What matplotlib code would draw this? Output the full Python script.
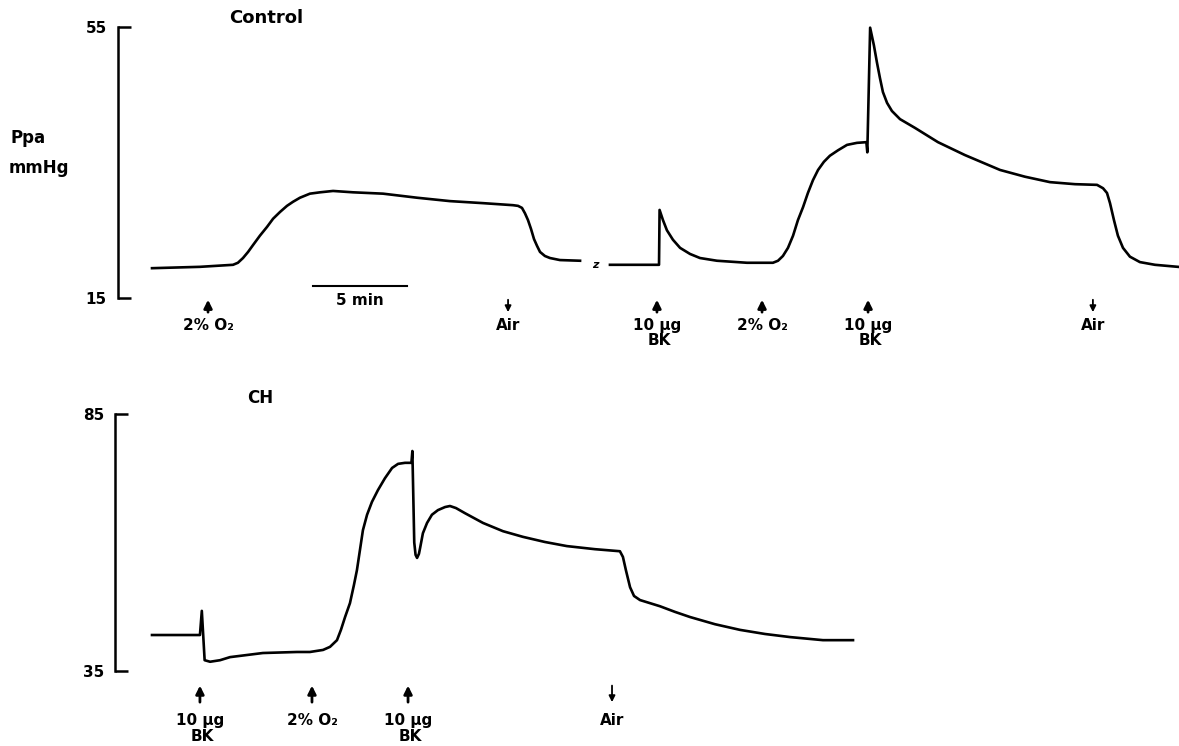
import numpy as np
import matplotlib
matplotlib.use('Agg')
import matplotlib.pyplot as plt

plt.rcParams['font.family'] = ['DejaVu Sans']
plt.rcParams['font.weight'] = 'bold'

# Control trace (min, mmHg), before and after the chart break
ctrl_t_a = [0.0, 2.55, 4.31, 4.57, 4.84, 5.11, 5.37, 5.74, 6.12, 6.44, 6.81, 7.18,
            7.50, 7.87, 8.40, 8.94, 9.63, 10.69, 12.29, 14.10, 15.85, 17.61,
            19.20, 19.47, 19.68, 19.84, 20.00, 20.16, 20.32, 20.48, 20.64, 20.90,
            21.17, 21.70, 22.77]
ctrl_p_a = [19.4, 19.6, 19.9, 20.2, 20.9, 21.8, 22.8, 24.2, 25.5, 26.7, 27.7, 28.6,
            29.2, 29.8, 30.4, 30.6, 30.8, 30.6, 30.4, 29.8, 29.3, 29.0,
            28.7, 28.6, 28.3, 27.5, 26.5, 25.2, 23.7, 22.7, 21.8, 21.2,
            20.9, 20.6, 20.5]

ctrl_t_b = [24.36, 26.97, 27.00, 27.18, 27.39, 27.71, 28.09, 28.62, 29.15, 30.05,
            31.65, 33.03, 33.30, 33.56, 33.83, 34.10, 34.36, 34.63, 34.89, 35.16,
            35.43, 35.74, 36.06, 36.49, 36.97, 37.50, 38.00, 38.05, 38.20, 38.40,
            38.56, 38.72, 38.88, 39.10, 39.36, 39.79, 40.59, 41.81, 43.24, 45.11,
            46.44, 47.77, 49.10, 50.27, 50.59, 50.80, 50.96, 51.17, 51.38, 51.65,
            52.02, 52.55, 53.35, 54.57]
ctrl_p_b = [19.9, 19.9, 28.0, 26.5, 25.0, 23.6, 22.4, 21.5, 20.9, 20.5,
            20.2, 20.2, 20.5, 21.2, 22.4, 24.2, 26.5, 28.4, 30.5, 32.4,
            33.9, 35.1, 36.0, 36.8, 37.6, 37.9, 38.0, 36.5, 54.9, 52.3,
            49.8, 47.5, 45.4, 43.8, 42.6, 41.4, 40.1, 38.0, 36.1, 33.9,
            32.9, 32.1, 31.8, 31.7, 31.2, 30.5, 29.0, 26.5, 24.2, 22.4,
            21.1, 20.3, 19.9, 19.6]
ctrl_break_t = 23.56

# CH trace (min, mmHg)
ch_t = [0.0, 2.55, 2.65, 2.80, 3.09, 3.62, 4.15, 5.90, 7.71, 8.40, 9.10, 9.47,
        9.84, 10.05, 10.27, 10.53, 10.74, 10.90, 11.06, 11.22, 11.44, 11.70,
        12.02, 12.39, 12.77, 13.09, 13.46, 13.80, 13.85, 13.95, 14.02, 14.10,
        14.20, 14.26, 14.41, 14.63, 14.89, 15.21, 15.59, 15.85, 16.17, 16.65,
        17.61, 18.67, 19.73, 20.90, 22.07, 23.56, 24.89, 25.05, 25.21, 25.43,
        25.64, 25.96, 26.49, 27.02, 27.82, 28.62, 29.95, 31.28, 32.61, 33.94,
        35.69, 37.29]
ch_p = [42.0, 42.0, 46.7, 37.1, 36.8, 37.1, 37.7, 38.5, 38.7, 38.7, 39.1, 39.7,
        41.0, 43.0, 45.5, 48.2, 51.7, 54.6, 58.5, 62.4, 65.4, 67.9,
        70.2, 72.5, 74.5, 75.3, 75.5, 75.5, 77.8, 60.0, 57.6, 57.0,
        57.8, 58.9, 61.8, 63.8, 65.4, 66.3, 66.9, 67.1, 66.7, 65.7,
        63.8, 62.2, 61.1, 60.1, 59.3, 58.7, 58.3, 57.2, 54.6, 51.3,
        49.6, 48.8, 48.2, 47.6, 46.5, 45.5, 44.1, 43.0, 42.2, 41.6,
        41.0, 41.0]

# events: time (min), label (BK on a second line after '|')
ctrl_events_t = [2.98, 18.94, 26.86, 32.45, 38.09, 50.05]
ctrl_events_lbl = ['2% O₂', 'Air', '10 µg|BK', '2% O₂', '10 µg|BK', 'Air']
ch_events_t = [2.55, 8.51, 13.62, 24.47]
ch_events_lbl = ['10 µg|BK', '2% O₂', '10 µg|BK', 'Air']

fig = plt.figure(figsize=(11.79, 7.46), dpi=100)
ax1 = fig.add_axes([118 / 1179, 1 - 298 / 746, 1061 / 1179, 271 / 746])
ax2 = fig.add_axes([115 / 1179, 1 - 671 / 746, 1064 / 1179, 257 / 746])


def style(ax, lo, hi, x0):
    ax.set_xlim(x0, 54.63)
    ax.set_ylim(lo, hi)
    for s in ['top', 'right', 'bottom']:
        ax.spines[s].set_visible(False)
    ax.spines['left'].set_linewidth(1.8)
    ax.set_xticks([])
    ax.set_yticks([lo, hi])
    ax.tick_params(axis='y', direction='in', length=9, width=1.8, pad=8, labelsize=11)
    for lab in ax.get_yticklabels():
        lab.set_fontweight('bold')


def events(ax, ts, labels, up_y, lbl_y, bk_y):
    for t, lbl in zip(ts, labels):
        down = lbl == 'Air'
        tip, tail = (up_y[1], up_y[0]) if down else (up_y[0], up_y[1])
        ax.annotate('', xy=(t, tip), xytext=(t, tail), annotation_clip=False,
                    arrowprops=dict(arrowstyle='-|>', color='k',
                                    lw=1.3 if down else 2.0,
                                    mutation_scale=9 if down else 12))
        parts = lbl.split('|')
        ax.text(t, lbl_y, parts[0], ha='center', va='center', fontsize=11,
                fontweight='bold', clip_on=False)
        if len(parts) > 1:
            ax.text(t + 0.1, bk_y, parts[1], ha='center', va='center', fontsize=11,
                    fontweight='bold', clip_on=False)


style(ax1, 15, 55, -1.809)
style(ax2, 35, 85, -1.968)

ax1.plot(ctrl_t_a, ctrl_p_a, color='k', lw=1.9, clip_on=False)
ax1.plot(ctrl_t_b, ctrl_p_b, color='k', lw=1.9, clip_on=False)
ax1.text(ctrl_break_t, 19.9, 'z', ha='center', va='center', fontsize=8,
         style='italic', fontweight='bold')
ax2.plot(ch_t, ch_p, color='k', lw=1.9, clip_on=False)

# 5 min scale bar
bar_t0, bar_len = 8.56, 5
ax1.plot([bar_t0, bar_t0 + bar_len], [16.8, 16.8], color='k', lw=1.5, clip_on=False)
ax1.text(bar_t0 + bar_len / 2, 14.7, '5 min', ha='center', va='center',
         fontsize=11, fontweight='bold', clip_on=False)

events(ax1, ctrl_events_t, ctrl_events_lbl, (15.15, 12.5), 11.0, 8.7)
events(ax2, ch_events_t, ch_events_lbl, (32.7, 28.4), 25.3, 22.3)

ax1.text(6.1, 56.3, 'Control', ha='center', va='center', fontsize=13,
         fontweight='bold', clip_on=False)
ax2.text(5.74, 88.1, 'CH', ha='center', va='center', fontsize=12,
         fontweight='bold', clip_on=False)

fig.text(11 / 1179, 1 - 138 / 746, 'Ppa', ha='left', va='center', fontsize=12,
         fontweight='bold')
fig.text(9 / 1179, 1 - 168 / 746, 'mmHg', ha='left', va='center', fontsize=12,
         fontweight='bold')

fig.savefig('out.png', dpi=100)
